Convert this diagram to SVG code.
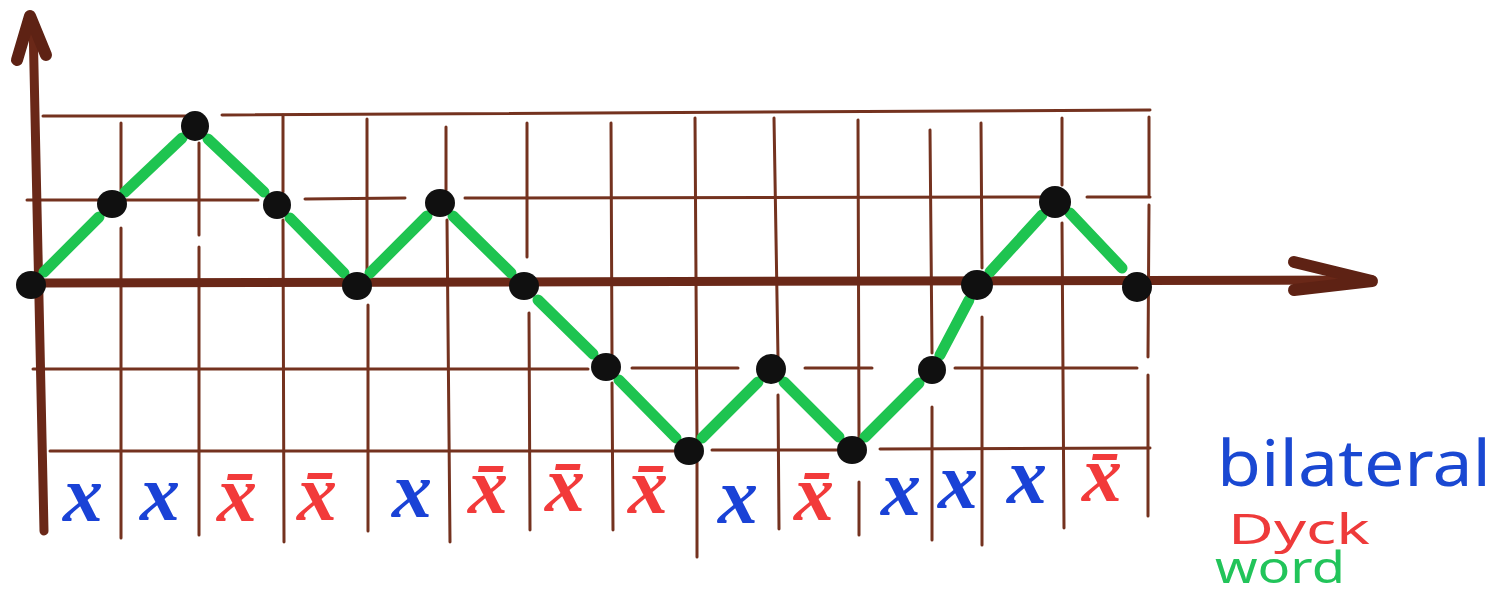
<svg xmlns="http://www.w3.org/2000/svg" width="1495" height="598" viewBox="0 0 1495 598">
<style>
.grid{stroke:#74321f;stroke-width:3;fill:none;stroke-linecap:round}
.axis{stroke:#6a2818;stroke-width:9;fill:none;stroke-linecap:round;stroke-linejoin:round}
.head{stroke:#5e2214;stroke-width:12;fill:none;stroke-linecap:round;stroke-linejoin:round}
.seg{stroke:#1ec450;stroke-width:11;stroke-linecap:round;fill:none}
.dot{fill:#101010}
.lx{font-family:'Liberation Serif','Times New Roman',serif;font-style:italic;font-weight:bold;font-size:80px;text-anchor:middle}
.b{fill:#1a42d6}
.r{fill:#f23a3a}
.hand{font-family:'Noto Sans','DejaVu Sans',sans-serif}
</style>
<rect width="1495" height="598" fill="#ffffff"/>
<g id="grid">
<path class="grid" d="M43,116 L190,116 M222,115 L1150,110"/>
<path class="grid" d="M27,200 L258,200 M305,199 L405,198 M465,198 L1040,197 M1087,197 L1150,197"/>
<path class="grid" d="M33,369 L588,369 M632,368 L738,368 M805,368 L872,368 M955,368 L1137,368"/>
<path class="grid" d="M50,451 L680,451 M712,450 L837,450 M880,449 L1150,448"/>
<path class="grid" d="M121,123 L121,190 M121,228 L121,538"/>
<path class="grid" d="M199,143 L199,235 M199,247 L199,535"/>
<path class="grid" d="M283,115 L283,192 M283,220 L284,542"/>
<path class="grid" d="M367,119 L367,273 M368,305 L368,531"/>
<path class="grid" d="M446,127 L446,190 M447,220 L450,542"/>
<path class="grid" d="M527,123 L527,257 M529,313 L530,530"/>
<path class="grid" d="M611,123 L612,357 M612,383 L613,530"/>
<path class="grid" d="M695,118 L697,440 M697,462 L697,557"/>
<path class="grid" d="M774,118 L778,357 M778,395 L779,529"/>
<path class="grid" d="M858,120 L859,438 M859,482 L859,535"/>
<path class="grid" d="M930,130 L932,353 M932,407 L932,540"/>
<path class="grid" d="M981,123 L982,268 M982,317 L982,545"/>
<path class="grid" d="M1062,118 L1062,185 M1062,223 L1064,528"/>
<path class="grid" d="M1149,117 L1149,195 M1149,205 L1148,357 M1148,375 L1148,516"/>
</g>
<g id="axes">
<path class="axis" d="M44,531 L33,22"/>
<path class="head" d="M17,60 L30,16 L46,55"/>
<path class="axis" d="M40,283 L1372,280"/>
<path class="head" d="M1294,262 L1372,281 L1294,290"/>
</g>
<g id="connectors">
<line class="seg" x1="44" y1="272" x2="99" y2="217"/>
<line class="seg" x1="125" y1="192" x2="182" y2="138"/>
<line class="seg" x1="208" y1="139" x2="264" y2="192"/>
<line class="seg" x1="290" y1="218" x2="344" y2="273"/>
<line class="seg" x1="370" y1="273" x2="427" y2="216"/>
<line class="seg" x1="453" y1="216" x2="511" y2="273"/>
<line class="seg" x1="538" y1="300" x2="593" y2="354"/>
<line class="seg" x1="619" y1="380" x2="676" y2="438"/>
<line class="seg" x1="702" y1="438" x2="758" y2="382"/>
<line class="seg" x1="784" y1="382" x2="839" y2="437"/>
<line class="seg" x1="865" y1="437" x2="919" y2="383"/>
<line class="seg" x1="940" y1="355" x2="969" y2="300"/>
<line class="seg" x1="990" y1="272" x2="1042" y2="215"/>
<line class="seg" x1="1070" y1="213" x2="1122" y2="268"/>
</g>
<g id="nodes">
<g id="p0"><ellipse class="dot" cx="31" cy="285" rx="15" ry="14"/></g>
<g id="p1"><ellipse class="dot" cx="112" cy="204" rx="15" ry="14"/></g>
<g id="p2"><ellipse class="dot" cx="195" cy="126" rx="14" ry="15"/></g>
<g id="p3"><ellipse class="dot" cx="277" cy="205" rx="14" ry="14"/></g>
<g id="p4"><ellipse class="dot" cx="357" cy="286" rx="15" ry="14"/></g>
<g id="p5"><ellipse class="dot" cx="440" cy="203" rx="15" ry="14"/></g>
<g id="p6"><ellipse class="dot" cx="524" cy="286" rx="15" ry="14"/></g>
<g id="p7"><ellipse class="dot" cx="606" cy="367" rx="15" ry="14"/></g>
<g id="p8"><ellipse class="dot" cx="689" cy="451" rx="15" ry="14"/></g>
<g id="p9"><ellipse class="dot" cx="771" cy="369" rx="15" ry="15"/></g>
<g id="p10"><ellipse class="dot" cx="852" cy="450" rx="15" ry="14"/></g>
<g id="p11"><ellipse class="dot" cx="932" cy="370" rx="14" ry="14"/></g>
<g id="p12"><ellipse class="dot" cx="977" cy="285" rx="16" ry="15"/></g>
<g id="p13"><ellipse class="dot" cx="1055" cy="202" rx="16" ry="16"/></g>
<g id="p14"><ellipse class="dot" cx="1137" cy="287" rx="15" ry="15"/></g>
</g>
<g id="letters">
<text class="lx b" x="83" y="521">x</text>
<text class="lx b" x="160" y="520">x</text>
<text class="lx r" x="237" y="521">x̄</text>
<text class="lx r" x="317" y="520">x̄</text>
<text class="lx b" x="412" y="517">x</text>
<text class="lx r" x="488" y="513">x̄</text>
<text class="lx r" x="565" y="511">x̄</text>
<text class="lx r" x="648" y="513">x̄</text>
<text class="lx b" x="738" y="523">x</text>
<text class="lx r" x="814" y="520">x̄</text>
<text class="lx b" x="901" y="515">x</text>
<text class="lx b" x="958" y="508">x</text>
<text class="lx b" x="1027" y="503">x</text>
<text class="lx r" x="1102" y="501">x̄</text>
</g>
<g id="legend">
<text class="hand" x="1217" y="486" font-size="64" fill="#1a48d2" textLength="274" lengthAdjust="spacingAndGlyphs">bilateral</text>
<text class="hand" x="1228" y="544" font-size="42" fill="#ee3a3a" textLength="142" lengthAdjust="spacingAndGlyphs">Dyck</text>
<text class="hand" x="1215" y="583" font-size="44" fill="#22c45a" textLength="130" lengthAdjust="spacingAndGlyphs">word</text>
</g>
</svg>
